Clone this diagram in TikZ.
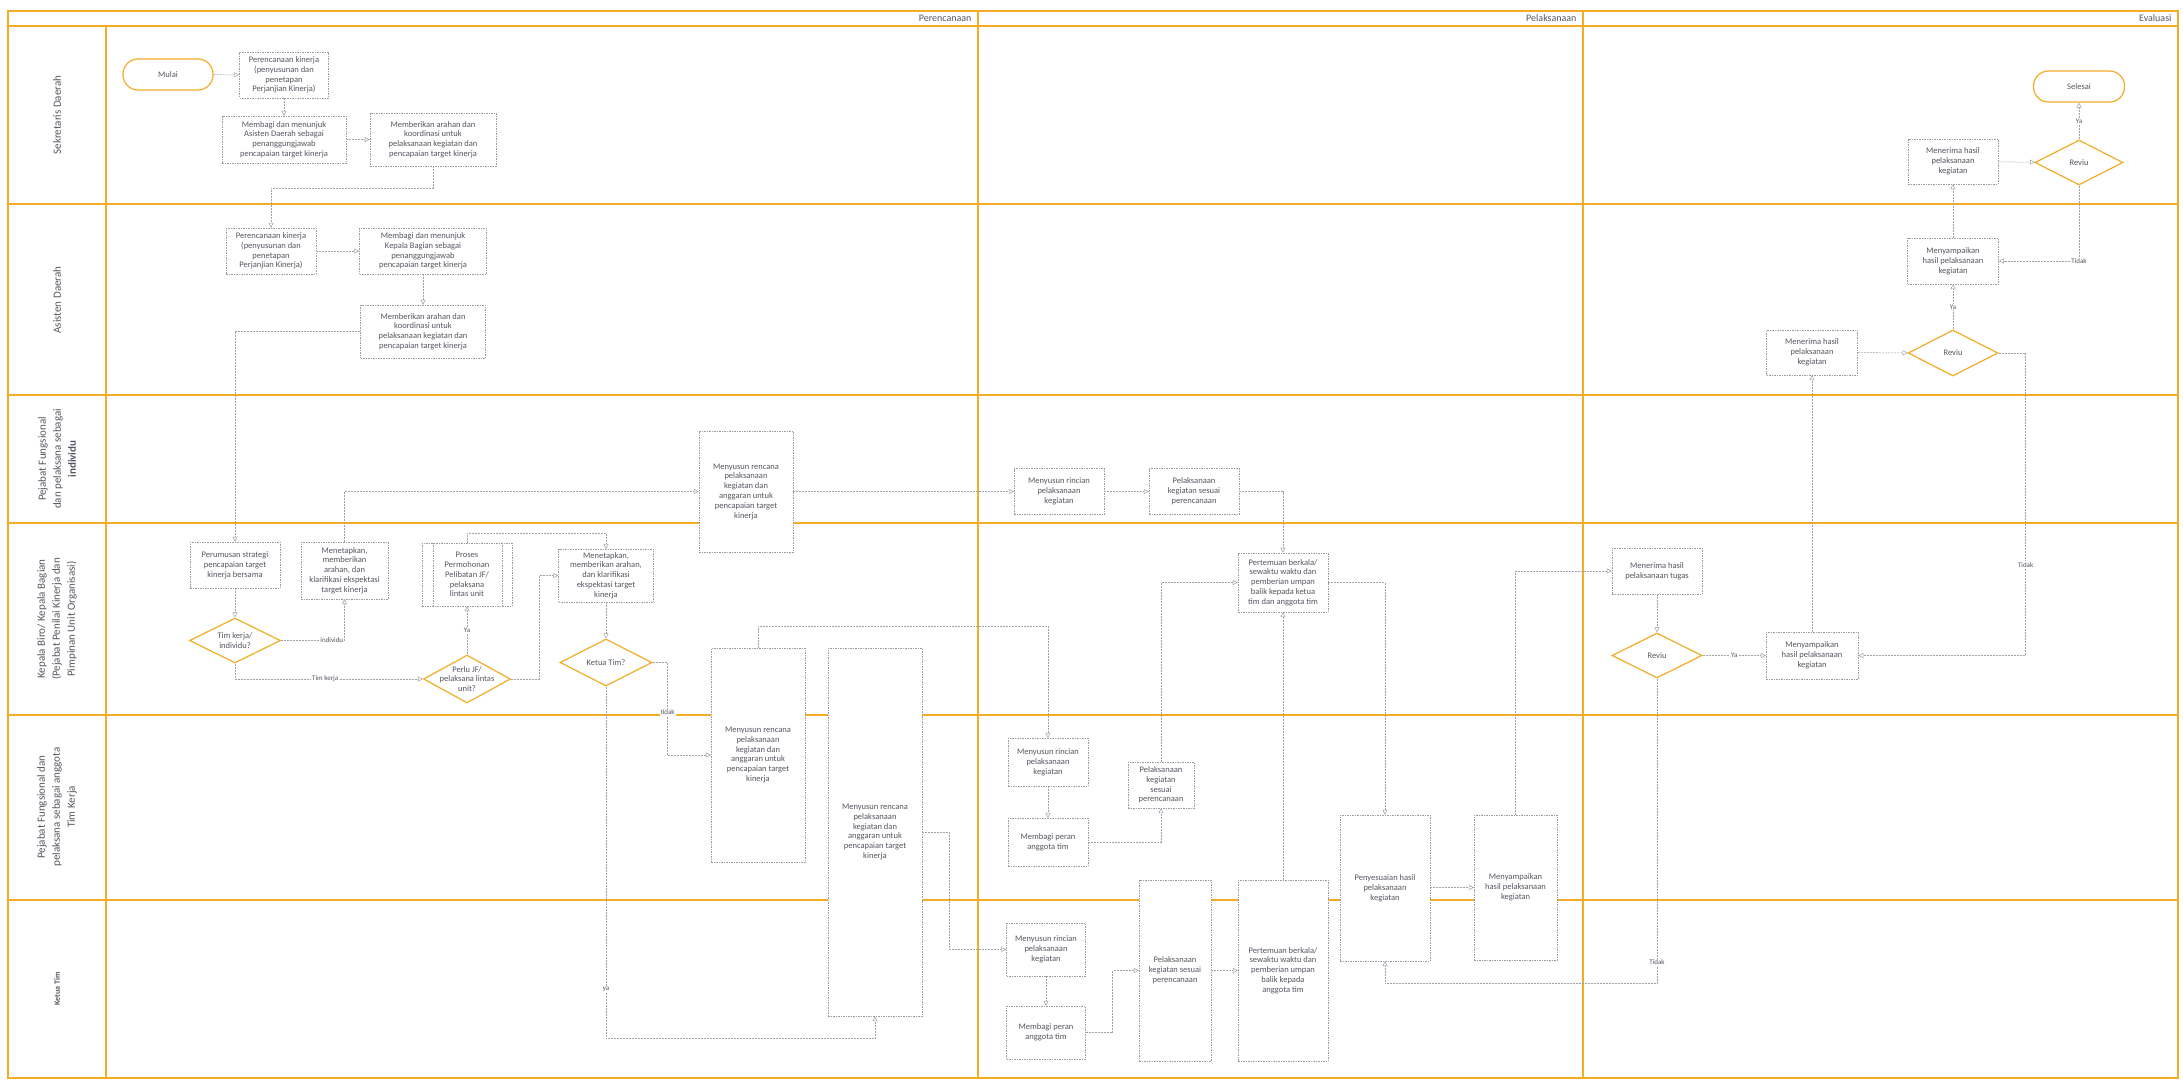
\documentclass[tikz,border=0pt]{standalone}
\usepackage{fontspec}
\setmainfont{Carlito}
\usetikzlibrary{positioning,arrows.meta,shapes.geometric}

\definecolor{lanecol}{RGB}{243,172,38}
\definecolor{boxgray}{RGB}{155,155,170}
\definecolor{linegray}{RGB}{160,160,168}
\definecolor{txtgray}{RGB}{85,85,98}

\begin{document}
\begin{tikzpicture}[
        x=1pt, y=-1pt,
        font=\fontsize{8.5}{9.8}\selectfont,
        block/.style={rectangle, draw=boxgray, dash pattern=on 1.5pt off 1pt,
            line width=0.45pt, fill=white, text=txtgray, align=center, inner sep=1pt},
        decision/.style={diamond, draw=lanecol, line width=1.2pt, fill=white,
            inner sep=0pt},
        terminal/.style={rectangle, rounded corners=15pt, draw=lanecol,
            line width=1.2pt, fill=white, text=txtgray},
        line/.style={draw=linegray, dash pattern=on 2pt off 1pt, line width=0.5pt,
            -{Triangle[open, length=5pt, width=5pt]}},
        lbl/.style={fill=white, inner sep=1pt, text=txtgray,
            font=\fontsize{7}{8}\selectfont},
        lanetitle/.style={rotate=90, align=center, text=txtgray,
            font=\fontsize{11}{15}\selectfont},
        lane/.style={draw=lanecol, line width=1.2pt}
    ]
    \useasboundingbox (0,0) rectangle (2183,1080);

    % lanes and phases
    \draw [lane] (8,11) rectangle (2178,1078);
    \draw [lane] (8,26) -- (2178,26);
    \foreach \y in {204,395,523,715,900}
        \draw [lane] (8,\y) -- (2178,\y);
    \draw [lane] (106,26) -- (106,1078);
    \draw [lane] (978,11) -- (978,1078);
    \draw [lane] (1583,11) -- (1583,1078);

    \node [anchor=east, text=txtgray, font=\fontsize{10}{12}\selectfont] (fase1) at (975,18.5) {Perencanaan};
    \node [anchor=east, text=txtgray, font=\fontsize{10}{12}\selectfont] (fase2) at (1580,18.5) {Pelaksanaan};
    \node [anchor=east, text=txtgray, font=\fontsize{10}{12}\selectfont] (fase3) at (2175,18.5) {Evaluasi};

    \node [lanetitle] (l1) at (57,115) {Sekretaris Daerah};
    \node [lanetitle] (l2) at (57,300) {Asisten Daerah};
    \node [lanetitle] (l3) at (57,459) {Pejabat Fungsional\\dan pelaksana sebagai\\\textbf{individu}};
    \node [lanetitle] (l4) at (57,619) {Kepala Biro/ Kepala Bagian\\(Pejabat Penilai Kinerja dan\\Pimpinan Unit Organisasi)};
    \node [lanetitle] (l5) at (57,807) {Pejabat Fungsional dan\\pelaksana sebagai anggota\\Tim Kerja};
    \node [lanetitle, font=\bfseries\fontsize{8}{10}\selectfont] (l6) at (57,989) {Ketua Tim};

    % Sekretaris Daerah
    \node [terminal, minimum width=90pt, minimum height=31pt] (mulai) at (168,74.5) {Mulai};
    \node [block, minimum width=89pt, minimum height=46pt] (rencanaS) at (284,75) {Perencanaan kinerja\\(penyusunan dan\\penetapan\\Perjanjian Kinerja)};
    \node [block, minimum width=124pt, minimum height=47pt] (bagiS) at (284,139.5) {Membagi dan menunjuk\\Asisten Daerah sebagai\\penanggungjawab\\pencapaian target kinerja};
    \node [block, minimum width=126pt, minimum height=53pt] (arahS) at (433,139.5) {Memberikan arahan dan\\koordinasi untuk\\pelaksanaan kegiatan dan\\pencapaian target kinerja};

    % Asisten Daerah
    \node [block, minimum width=90pt, minimum height=46pt] (rencanaA) at (271,251) {Perencanaan kinerja\\(penyusunan dan\\penetapan\\Perjanjian Kinerja)};
    \node [block, minimum width=127pt, minimum height=46pt] (bagiA) at (423,251) {Membagi dan menunjuk\\Kepala Bagian sebagai\\penanggungjawab\\pencapaian target kinerja};
    \node [block, minimum width=125pt, minimum height=53pt] (arahA) at (423,331.5) {Memberikan arahan dan\\koordinasi untuk\\pelaksanaan kegiatan dan\\pencapaian target kinerja};

    % Pejabat Fungsional individu
    \node [block, minimum width=94pt, minimum height=121pt] (rencanaI) at (746,491.5) {Menyusun rencana\\pelaksanaan\\kegiatan dan\\anggaran untuk\\pencapaian target\\kinerja};
    \node [block, minimum width=90pt, minimum height=46pt] (rincianI) at (1059,491.5) {Menyusun rincian\\pelaksanaan\\kegiatan};
    \node [block, minimum width=90pt, minimum height=46pt] (laksanaI) at (1194,491.5) {Pelaksanaan\\kegiatan sesuai\\perencanaan};

    % Kepala Biro / Kepala Bagian
    \node [block, minimum width=90pt, minimum height=46pt] (rumus) at (235,565) {Perumusan strategi\\pencapaian target\\kinerja bersama};
    \node [block, minimum width=87pt, minimum height=57pt] (tetap1) at (344.5,570.5) {Menetapkan,\\memberikan\\arahan, dan\\klarifikasi ekspektasi\\target kinerja};
    \node [decision, minimum width=91pt, minimum height=45pt,
        label={[align=center, text=txtgray]center:Tim kerja/\\individu?}] (timkerja) at (235,640.5) {};
    \node [block, minimum width=90pt, minimum height=63pt] (proses) at (467,574.5) {Proses\\Permohonan\\Pelibatan JF/\\pelaksana\\lintas unit};
    \draw [boxgray, dash pattern=on 1.5pt off 1pt, line width=0.45pt] ([xshift=11pt]proses.north west) -- ([xshift=11pt]proses.south west);
    \draw [boxgray, dash pattern=on 1.5pt off 1pt, line width=0.45pt] ([xshift=-10pt]proses.north east) -- ([xshift=-10pt]proses.south east);
    \node [decision, minimum width=87pt, minimum height=48pt,
        label={[align=center, text=txtgray]center:Perlu JF/\\pelaksana lintas\\unit?}] (perlu) at (467,679) {};
    \node [block, minimum width=95pt, minimum height=53pt] (tetap2) at (606,575.5) {Menetapkan,\\memberikan arahan,\\dan klarifikasi\\ekspektasi target\\kinerja};
    \node [decision, minimum width=92pt, minimum height=47pt,
        label={[text=txtgray]center:Ketua Tim?}] (ketua) at (606,662.5) {};
    \node [block, minimum width=90pt, minimum height=59pt] (temuB) at (1283,582.5) {Pertemuan berkala/\\sewaktu waktu dan\\pemberian umpan\\balik kepada ketua\\tim dan anggota tim};
    \node [block, minimum width=90pt, minimum height=46pt] (terimaT) at (1657,571) {Menerima hasil\\pelaksanaan tugas};
    \node [decision, minimum width=90pt, minimum height=45pt,
        label={[text=txtgray]center:Reviu}] (reviuB) at (1657,655.5) {};
    \node [block, minimum width=92pt, minimum height=47pt] (sampaiB) at (1812,655.5) {Menyampaikan\\hasil pelaksanaan\\kegiatan};

    % Pejabat Fungsional anggota Tim Kerja
    \node [block, minimum width=94pt, minimum height=214pt] (rencanaG) at (758,755) {Menyusun rencana\\pelaksanaan\\kegiatan dan\\anggaran untuk\\pencapaian target\\kinerja};
    \node [block, minimum width=80pt, minimum height=48pt] (rincianG) at (1048,762) {Menyusun rincian\\pelaksanaan\\kegiatan};
    \node [block, minimum width=80pt, minimum height=48pt] (bagiG) at (1048,842) {Membagi peran\\anggota tim};
    \node [block, minimum width=66pt, minimum height=46pt] (laksanaG) at (1161,785) {Pelaksanaan\\kegiatan\\sesuai\\perencanaan};
    \node [block, minimum width=90pt, minimum height=146pt] (sesuai) at (1385,888) {Penyesuaian hasil\\pelaksanaan\\kegiatan};
    \node [block, minimum width=83pt, minimum height=145pt] (sampaiG) at (1515.5,887.5) {Menyampaikan\\hasil pelaksanaan\\kegiatan};

    % Ketua Tim
    \node [block, minimum width=94pt, minimum height=368pt] (rencanaK) at (875,832) {Menyusun rencana\\pelaksanaan\\kegiatan dan\\anggaran untuk\\pencapaian target\\kinerja};
    \node [block, minimum width=79pt, minimum height=53pt] (rincianK) at (1046,949.5) {Menyusun rincian\\pelaksanaan\\kegiatan};
    \node [block, minimum width=79pt, minimum height=53pt] (bagiK) at (1046,1032.5) {Membagi peran\\anggota tim};
    \node [block, minimum width=72pt, minimum height=181pt] (laksanaK) at (1175,970.5) {Pelaksanaan\\kegiatan sesuai\\perencanaan};
    \node [block, minimum width=90pt, minimum height=181pt] (temuK) at (1283,970.5) {Pertemuan berkala/\\sewaktu waktu dan\\pemberian umpan\\balik kepada\\anggota tim};

    % Evaluasi atas
    \node [terminal, minimum width=91pt, minimum height=31pt] (selesai) at (2079,86.5) {Selesai};
    \node [block, minimum width=90pt, minimum height=45pt] (terimaS) at (1953,161.5) {Menerima hasil\\pelaksanaan\\kegiatan};
    \node [decision, minimum width=88pt, minimum height=45pt,
        label={[text=txtgray]center:Reviu}] (reviuS) at (2079,162.5) {};
    \node [block, minimum width=91pt, minimum height=46pt] (sampaiA) at (1953,261) {Menyampaikan\\hasil pelaksanaan\\kegiatan};
    \node [decision, minimum width=90pt, minimum height=46pt,
        label={[text=txtgray]center:Reviu}] (reviuA) at (1953,353) {};
    \node [block, minimum width=91pt, minimum height=45pt] (terimaA) at (1812,352.5) {Menerima hasil\\pelaksanaan\\kegiatan};

    % connectors
    \path [line] (mulai) -- (rencanaS);
    \path [line] (rencanaS) -- (bagiS);
    \path [line] (bagiS) -- (arahS);
    \path [line] (arahS.south) -- ++(0,22) -| (rencanaA.north);
    \path [line] (rencanaA) -- (bagiA);
    \path [line] (bagiA) -- (arahA);
    \path [line] (arahA.west) -| (rumus.north);
    \path [line] (rumus) -- (timkerja);
    \path [line] (timkerja.east) -| node [lbl, pos=0.4] {individu} (tetap1.south);
    \path [line] (timkerja.south) |- node [lbl, pos=0.74] {Tim kerja} (perlu.west);
    \path [line] (perlu.north) -- node [lbl] {Ya} (proses.south);
    \path [line] (perlu.east) -- ++(28,0) |- (tetap2.west);
    \path [line] (proses.north) -- ++(0,-10) -| (tetap2.north);
    \path [line] (tetap2) -- (ketua);
    \path [line] (tetap1.north) |- (rencanaI.west);
    \path [line] (ketua.east) -- ++(15,0) |- node [lbl, pos=0.27] {tidak} (rencanaG.west);
    \path [line] (ketua.south) -- node [lbl, pos=0.86] {ya} ++(0,352) -| (rencanaK.south);
    \path [line] (rencanaI) -- (rincianI);
    \path [line] (rincianI) -- (laksanaI);
    \path [line] (laksanaI.east) -| (temuB.north);
    \path [line] (rencanaG.north) -- ++(0,-22) -| (rincianG.north);
    \path [line] (rincianG) -- (bagiG);
    \path [line] (bagiG.east) -| (laksanaG.south);
    \path [line] (laksanaG.north) |- (temuB.west);
    \path [line] (temuK) -- (temuB);
    \path [line] (temuB.east) -| (sesuai.north);
    \path [line] (rencanaK.east) -- ++(27,0) |- (rincianK.west);
    \path [line] (rincianK) -- (bagiK);
    \path [line] (bagiK.east) -- ++(27,0) |- (laksanaK.west);
    \path [line] (laksanaK) -- (temuK);
    \path [line] (sesuai.east |- sampaiG.west) -- (sampaiG.west);
    \path [line] (sampaiG.north) |- (terimaT.west);
    \path [line] (terimaT) -- (reviuB);
    \path [line] (reviuB) -- node [lbl] {Ya} (sampaiB);
    \path [line] (reviuB.south) -- node [lbl, pos=0.93] {Tidak} ++(0,305) -| (sesuai.south);
    \path [line] (sampaiB) -- (terimaA);
    \path [line] (terimaA) -- (reviuA);
    \path [line] (reviuA) -- node [lbl] {Ya} (sampaiA);
    \path [line] (reviuA.east) -- ++(27,0) |- node [lbl, pos=0.35] {Tidak} (sampaiB.east);
    \path [line] (sampaiA) -- (terimaS);
    \path [line] (terimaS) -- (reviuS);
    \path [line] (reviuS) -- node [lbl] {Ya} (selesai);
    \path [line] (reviuS.south) |- node [lbl, pos=0.5] {Tidak} (sampaiA.east);
\end{tikzpicture}
\end{document}
